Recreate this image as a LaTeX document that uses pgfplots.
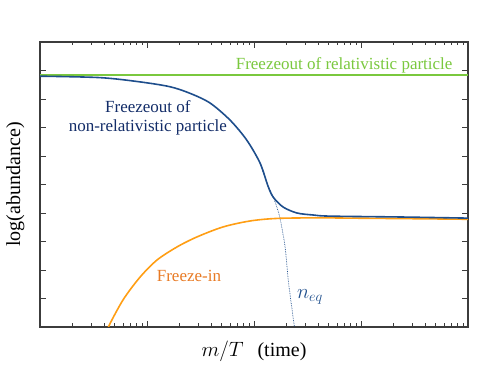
\documentclass[border=0pt]{standalone}
\usepackage{pgfplots}
\pgfplotsset{compat=1.18}
\usepackage{fontspec}
\setmainfont{Liberation Serif}
\definecolor{cgreen}{RGB}{122,200,62}
\definecolor{corange}{RGB}{255,158,20}
\definecolor{corangetext}{RGB}{232,122,36}
\definecolor{cblue}{RGB}{30,78,140}
\definecolor{cbluetext}{RGB}{18,44,104}
\definecolor{cframe}{RGB}{60,60,60}
\begin{document}
\begin{tikzpicture}[x=1pt,y=1pt]
\useasboundingbox (0,0) rectangle (498,374);
\begin{axis}[
  at={(40pt,47pt)}, anchor=south west,
  scale only axis, width=428pt, height=285pt,
  xmode=log, xmin=0.1, xmax=1000,
  ymin=0, ymax=10,
  ytick={1,2,3,4,5,6,7,8,9},
  xticklabels={}, yticklabels={},
  tick align=inside,
  major tick length=6pt, minor tick length=3.5pt,
  axis line style={cframe, line width=1.4pt},
  every tick/.style={cframe, line width=0.8pt},
  clip=true,
  xlabel={\fontsize{20}{24}\selectfont $m/T$\hspace{0.7em}(time)},
  ylabel={\fontsize{20}{24}\selectfont log(abundance)},
  xlabel style={at={(axis description cs:0.5,0)}, anchor=north, yshift=-10pt},
  ylabel style={at={(axis description cs:0,0.5)}, anchor=south, yshift=12pt},
]
% green: relativistic freezeout
\addplot[cgreen, line width=1.6pt] coordinates {(0.1,8.84) (1000,8.84)};
% n_eq dotted
\addplot[cblue, line width=0.7pt, densely dotted, smooth] coordinates {
 (11.4,5.75) (13.5,4.95) (14.9,4.63) (16.2,4.25) (17.5,3.82) (19.5,2.82) (20.9,1.65) (22.5,0.71) (23.8,0.04) (24.5,-0.4)};
% orange: freeze-in
\addplot[corange, line width=1.6pt, smooth] coordinates {
 (0.41,-0.4) (0.432,-0.03) (0.597,0.95) (0.861,1.75) (1.24,2.35) (1.91,2.81) (2.93,3.16) (5.13,3.51) (9.18,3.72) (16.4,3.81) (40,3.83) (78.9,3.82) (300,3.80) (1000,3.78)};
% blue: non-relativistic freezeout
\addplot[cblue, line width=1.6pt, smooth, tension=0.5] coordinates {
 (0.1,8.80) (0.364,8.75) (0.861,8.60) (1.64,8.43) (2.52,8.20) (3.88,7.86) (5.97,7.26) (8.55,6.56) (11.4,5.75) (13.5,4.95) (15.1,4.56) (18.7,4.21) (25.2,4.00) (35.6,3.93) (51.3,3.89) (231,3.86) (1000,3.82)};
\node[cgreen, anchor=east, font=\fontsize{17}{20}\selectfont] at (rel axis cs:0.972,0.919) {Freezeout of relativistic particle};
\node[cbluetext, align=center, font=\fontsize{17}{19}\selectfont] at (rel axis cs:0.252,0.733) {Freezeout of\\non-relativistic particle};
\node[corangetext, font=\fontsize{17}{20}\selectfont] at (rel axis cs:0.348,0.179) {Freeze-in};
\node[cblue, font=\fontsize{20}{22}\selectfont] at (rel axis cs:0.631,0.105) {$n_{eq}$};
\end{axis}
\end{tikzpicture}
\end{document}
